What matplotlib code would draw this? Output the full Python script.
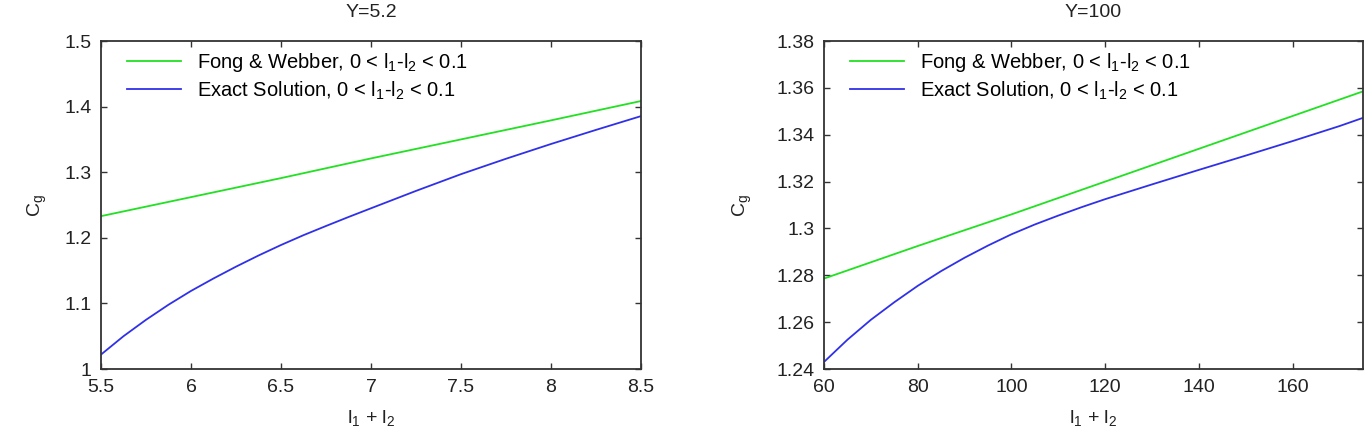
import numpy as np
import matplotlib
matplotlib.use('Agg')
import matplotlib.pyplot as plt

plt.rcParams['font.family'] = ['Liberation Sans', 'DejaVu Sans']
plt.rcParams['mathtext.fontset'] = 'custom'
plt.rcParams['mathtext.rm'] = 'Liberation Sans'
plt.rcParams['mathtext.it'] = 'Liberation Sans'

# Y=5.2 panel
x_left_fw = [5.5, 6.0, 6.5, 7.0, 7.5, 8.0, 8.5]
y_left_fw = [1.233, 1.262, 1.291, 1.321, 1.350, 1.379, 1.4085]
x_left_ex = [5.5, 5.625, 5.75, 5.875, 6.0, 6.125, 6.25, 6.375, 6.5, 6.625, 6.75, 6.875, 7.0,
             7.25, 7.5, 7.75, 8.0, 8.25, 8.5]
y_left_ex = [1.022, 1.050, 1.075, 1.098, 1.119, 1.138, 1.156, 1.173, 1.189, 1.204, 1.218,
             1.2317, 1.245, 1.2715, 1.297, 1.3205, 1.343, 1.3645, 1.3855]

# Y=100 panel
x_right_fw = [60, 80, 100, 120, 140, 160, 175]
y_right_fw = [1.2786, 1.2925, 1.306, 1.320, 1.334, 1.348, 1.3585]
x_right_ex = [60, 65, 70, 75, 80, 85, 90, 95, 100, 105, 110, 115, 120, 130, 140, 150, 160, 170, 175]
y_right_ex = [1.243, 1.2525, 1.261, 1.2685, 1.2755, 1.2818, 1.2875, 1.2927, 1.2975, 1.3017,
              1.3055, 1.3091, 1.3125, 1.3188, 1.325, 1.3311, 1.3373, 1.3437, 1.3472]

lab_fw = 'Fong & Webber, 0 < l$_1$-l$_2$ < 0.1'
lab_ex = 'Exact Solution, 0 < l$_1$-l$_2$ < 0.1'

green = '#22e022'
blue = '#3030e8'
txt = '#222222'

fig = plt.figure(figsize=(13.7, 4.41), dpi=100)
ax1 = fig.add_axes([101/1370, 72/441, 540/1370, 328/441])
ax2 = fig.add_axes([824/1370, 72/441, 539/1370, 328/441])

panels = [
    (ax1, x_left_fw, y_left_fw, x_left_ex, y_left_ex, 'Y=5.2',
     (5.5, 8.5), [5.5, 6, 6.5, 7, 7.5, 8, 8.5], ['5.5', '6', '6.5', '7', '7.5', '8', '8.5'],
     (1.0, 1.5), [1.0, 1.1, 1.2, 1.3, 1.4, 1.5], ['1', '1.1', '1.2', '1.3', '1.4', '1.5'], 11),
    (ax2, x_right_fw, y_right_fw, x_right_ex, y_right_ex, 'Y=100',
     (60, 175), [60, 80, 100, 120, 140, 160], ['60', '80', '100', '120', '140', '160'],
     (1.24, 1.38), [1.24, 1.26, 1.28, 1.30, 1.32, 1.34, 1.36, 1.38],
     ['1.24', '1.26', '1.28', '1.3', '1.32', '1.34', '1.36', '1.38'], 16),
]

for ax, xf, yf, xe, ye, title, xlim, xt, xtl, ylim, yt, ytl, ylp in panels:
    ax.plot(xf, yf, color=green, lw=1.3, label=lab_fw)
    ax.plot(xe, ye, color=blue, lw=1.3, label=lab_ex)
    ax.set_xlim(*xlim)
    ax.set_ylim(*ylim)
    ax.set_xticks(xt)
    ax.set_xticklabels(xtl)
    ax.set_yticks(yt)
    ax.set_yticklabels(ytl)
    ax.tick_params(direction='in', top=True, right=True, length=4, width=1,
                   color='#333333', labelsize=14, labelcolor=txt)
    ax.tick_params(axis='y', pad=7)
    ax.tick_params(axis='x', pad=7)
    for s in ax.spines.values():
        s.set_linewidth(1.3)
        s.set_color('#333333')
    ax.set_title(title, fontsize=14, pad=17, color=txt)
    ax.set_xlabel('l$_1$ + l$_2$', fontsize=14, labelpad=9, color=txt)
    ax.set_ylabel('C$_g$', fontsize=14, labelpad=ylp, color=txt)
    ax.legend(loc='upper left', frameon=False, fontsize=14.5, handlelength=2.7,
              handletextpad=0.8, borderaxespad=0.0, borderpad=0.35, labelspacing=0.25,
              bbox_to_anchor=(0.035, 0.99))

fig.savefig('out.png', dpi=100)
